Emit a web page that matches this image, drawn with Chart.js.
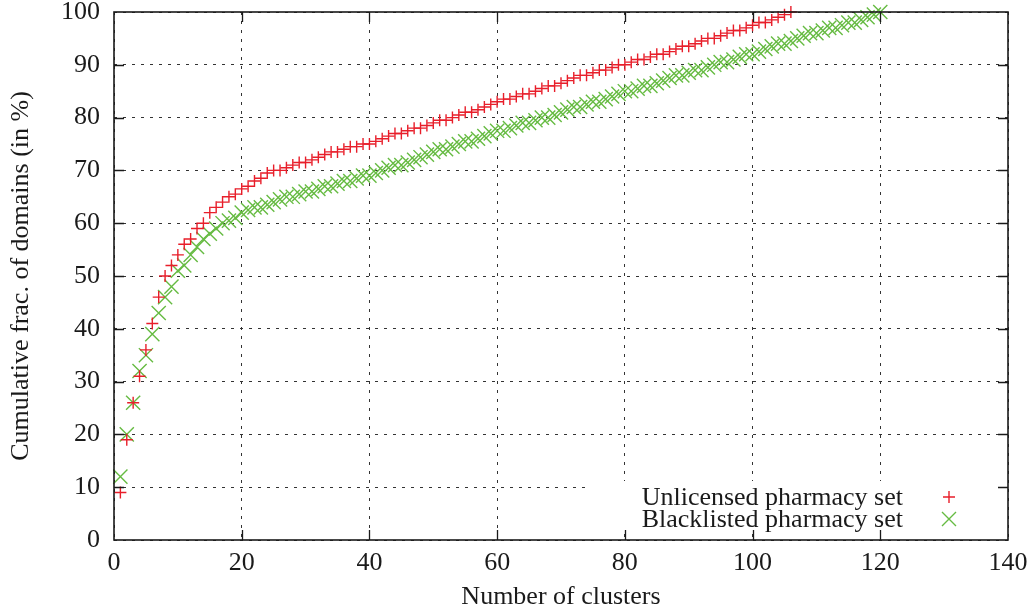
<!DOCTYPE html>
<html>
<head>
<meta charset="utf-8">
<script src="https://cdn.jsdelivr.net/npm/chart.js@4.4.1/dist/chart.umd.min.js"></script>
<style>
  html, body { margin: 0; padding: 0; background: #fff; }
  #wrap { width: 1036px; height: 613px; }
</style>
</head>
<body>
<div id="wrap"><canvas id="clusterChart" width="1036" height="613"></canvas></div>
<script>
// cumulative share of domains (%) covered by the first N clusters, N = 1, 2, 3, ...
const unlicensedPct = [
  9, 19, 26, 31, 36, 41, 46, 50, 52, 54,
  56, 57, 59, 60, 62, 63, 64, 65, 65.5, 66.5,
  67, 68, 68.5, 69.5, 70, 70, 70.5, 71, 71.5, 71.5,
  72, 72.5, 73, 73.5, 73.5, 74, 74.5, 74.5, 75, 75,
  75.5, 76, 76.5, 77, 77, 77.5, 78, 78, 78.5, 79,
  79.5, 79.5, 80, 80.5, 81, 81, 81.5, 82, 82.5, 83,
  83.5, 83.5, 84, 84.5, 84.5, 85, 85.5, 86, 86, 86.5,
  87, 87.5, 88, 88, 88.5, 89, 89, 89.5, 90, 90,
  90.5, 91, 91, 91.5, 92, 92, 92.5, 93, 93.5, 93.5,
  94, 94.5, 95, 95, 95.5, 96, 96.5, 96.5, 97, 97.5,
  98, 98, 98.5, 99, 99.5, 100
];
const blacklistedPct = [
  12, 20, 26, 32, 35, 39, 43, 46, 48, 51,
  52, 54, 55.5, 57, 58, 59, 60, 60.5, 61, 62,
  62.5, 63, 63, 63.5, 64, 64.5, 65, 65, 65.5, 66,
  66, 66.5, 67, 67, 67.5, 68, 68, 68.5, 69, 69,
  69.5, 70, 70.5, 71, 71, 71.5, 72, 72.5, 73, 73.5,
  74, 74, 74.5, 75, 75.5, 75.5, 76, 76.5, 77, 77.5,
  77.5, 78, 78.5, 79, 79, 79.5, 80, 80, 80.5, 81,
  81.5, 82, 82, 82.5, 83, 83, 83.5, 84, 84.5, 85,
  85, 85.5, 86, 86, 86.5, 87, 87.5, 88, 88, 88.5,
  89, 89, 89.5, 90, 90.5, 90.5, 91, 91.5, 92, 92,
  92.5, 93, 93.5, 94, 94, 94.5, 95, 95.5, 96, 96,
  96.5, 97, 97, 97.5, 98, 98, 98.5, 99, 99.5, 100
];
const seriesNames = ['Unlicensed pharmacy set', 'Blacklisted pharmacy set'];
const xTicks = [0, 20, 40, 60, 80, 100, 120, 140];
const yTicks = [0, 10, 20, 30, 40, 50, 60, 70, 80, 90, 100];

const RED = 'rgb(232, 30, 42)';
const GREEN = 'rgb(102, 187, 66)';
const INK = '#1a1a1a';
const FONT = { family: '"Liberation Serif", "Times New Roman", serif', size: 26 };

function toPoints(values) {
  return values.map((v, i) => ({ x: i + 1, y: v }));
}

// gnuplot-style frame: inward mirrored tics, blanked key area, key drawn by hand
const framePlugin = {
  id: 'frame',
  beforeDatasetsDraw(chart) {
    const ctx = chart.ctx;
    ctx.save();
    ctx.fillStyle = '#fff';
    ctx.fillRect(589, 481, chart.chartArea.right - 589 - 1, 48);
    ctx.restore();
  },
  afterDraw(chart) {
    const { ctx, chartArea: a, scales: { x, y } } = chart;
    ctx.save();
    ctx.strokeStyle = INK;
    ctx.lineWidth = 1.3;
    ctx.beginPath();
    xTicks.slice(1, -1).forEach(v => {
      const px = Math.round(x.getPixelForValue(v)) + 0.5;
      ctx.moveTo(px, a.bottom); ctx.lineTo(px, a.bottom - 10);
      ctx.moveTo(px, a.top); ctx.lineTo(px, a.top + 10);
    });
    yTicks.slice(1, -1).forEach(v => {
      const py = Math.round(y.getPixelForValue(v)) + 0.5;
      ctx.moveTo(a.left, py); ctx.lineTo(a.left + 10, py);
      ctx.moveTo(a.right, py); ctx.lineTo(a.right - 10, py);
    });
    ctx.stroke();
    ctx.lineWidth = 1.6;
    ctx.strokeRect(a.left, a.top, a.right - a.left, a.bottom - a.top);

    // key
    ctx.font = `${FONT.size}px ${FONT.family}`;
    ctx.fillStyle = INK;
    ctx.textAlign = 'right';
    ctx.textBaseline = 'middle';
    ctx.fillText(seriesNames[0], 903, 498);
    ctx.fillText(seriesNames[1], 903, 520);
    ctx.lineWidth = 1.4;
    ctx.strokeStyle = RED;
    ctx.beginPath();
    ctx.moveTo(943, 497); ctx.lineTo(955, 497);
    ctx.moveTo(949, 491); ctx.lineTo(949, 503);
    ctx.stroke();
    ctx.strokeStyle = GREEN;
    ctx.beginPath();
    ctx.moveTo(942, 512); ctx.lineTo(956, 526);
    ctx.moveTo(956, 512); ctx.lineTo(942, 526);
    ctx.stroke();
    ctx.restore();
  }
};

new Chart(document.getElementById('clusterChart'), {
  type: 'scatter',
  data: {
    datasets: [{
      label: seriesNames[0],
      data: toPoints(unlicensedPct),
      pointStyle: 'cross',
      pointRadius: 6,
      pointHoverRadius: 6,
      borderColor: RED,
      backgroundColor: RED,
      pointBorderWidth: 1.4,
      showLine: false,
      clip: false
    }, {
      label: seriesNames[1],
      data: toPoints(blacklistedPct),
      pointStyle: 'crossRot',
      pointRadius: 10,
      pointHoverRadius: 10,
      borderColor: GREEN,
      backgroundColor: GREEN,
      pointBorderWidth: 1.4,
      showLine: false,
      clip: false
    }]
  },
  options: {
    responsive: false,
    animation: false,
    events: [],
    layout: { padding: { top: 12, right: 28, left: 0, bottom: 0 } },
    plugins: { legend: { display: false }, tooltip: { enabled: false } },
    scales: {
      x: {
        type: 'linear',
        min: 0,
        max: 140,
        afterBuildTicks: s => { s.ticks = xTicks.map(v => ({ value: v })); },
        afterFit: s => { s.height = 73; s.paddingLeft = 0; s.paddingRight = 0; },
        grid: { color: '#333', lineWidth: 1, drawTicks: false },
        border: { display: false, dash: [3, 6] },
        ticks: { font: FONT, color: INK, padding: 8, maxRotation: 0, autoSkip: false },
        title: {
          display: true,
          text: 'Number of clusters',
          font: FONT,
          color: INK,
          padding: { top: 0, bottom: 0 }
        }
      },
      y: {
        type: 'linear',
        min: 0,
        max: 100,
        afterBuildTicks: s => { s.ticks = yTicks.map(v => ({ value: v })); },
        afterFit: s => { s.width = 114; s.paddingTop = 0; s.paddingBottom = 0; },
        grid: { color: '#333', lineWidth: 1, drawTicks: false },
        border: { display: false, dash: [3, 6] },
        ticks: { font: FONT, color: INK, padding: 14, autoSkip: false },
        title: {
          display: true,
          text: 'Cumulative frac. of domains (in %)',
          font: FONT,
          color: INK,
          padding: { top: 6, bottom: 0 }
        }
      }
    }
  },
  plugins: [framePlugin]
});
</script>
</body>
</html>
